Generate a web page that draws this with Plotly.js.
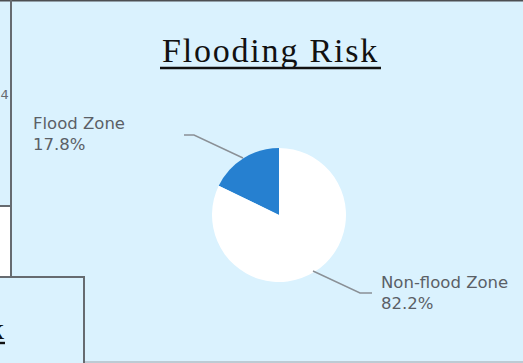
<!DOCTYPE html>
<html>
<head>
<meta charset="utf-8">
<script src="https://cdn.plot.ly/plotly-3.0.1.min.js"></script>
<style>html,body{margin:0;padding:0;background:#daf2fe;}#chart{width:523px;height:363px;}</style>
</head>
<body>
<div id="chart"></div>
<script>
const categories = ["Flood Zone", "Non-flood Zone"];
const shares = [17.8, 82.2];
const sliceColors = ["#2680d0", "#ffffff"];
const chartTitle = "Flooding Risk";

const W = 523, H = 363;
const px = x => x / W;
const py = y => 1 - y / H;
const total = shares.reduce((a, b) => a + b, 0);
const labelText = i => categories[i] + "<br>" + (shares[i] / total * 100).toFixed(1) + "%";

const trace = {
  type: "pie",
  labels: categories,
  values: shares,
  sort: false,
  direction: "clockwise",
  rotation: -360 * shares[0] / total,
  textinfo: "none",
  hoverinfo: "none",
  marker: { colors: sliceColors, line: { width: 0 } },
  domain: { x: [px(212), px(346)], y: [py(282), py(148)] },
  showlegend: false
};

const edge = "#666b70";
const labelFont = { family: "DejaVu Sans, sans-serif", size: 16.5, color: "#5a6066" };
const layout = {
  width: W, height: H,
  margin: { l: 0, r: 0, t: 0, b: 0, pad: 0 },
  paper_bgcolor: "#daf2fe",
  plot_bgcolor: "#daf2fe",
  showlegend: false,
  annotations: [
    { text: '<span style="letter-spacing:1.8px">' + chartTitle + '</span>', xref: "paper", yref: "paper",
      x: px(270), y: py(50), xanchor: "center", yanchor: "middle", showarrow: false,
      font: { family: "Liberation Serif, Times New Roman, serif", size: 34, color: "#111111" } },
    { text: labelText(0), xref: "paper", yref: "paper", x: px(31), y: py(134), xanchor: "left", yanchor: "middle",
      align: "left", showarrow: false, font: labelFont },
    { text: labelText(1), xref: "paper", yref: "paper", x: px(379), y: py(293), xanchor: "left", yanchor: "middle",
      align: "left", showarrow: false, font: labelFont },
    { text: "2.4", xref: "paper", yref: "paper", x: px(11), y: py(95), xanchor: "right", yanchor: "middle",
      showarrow: false, font: { family: "DejaVu Sans, sans-serif", size: 13, color: "#666a70" } },
    { text: "k", xref: "paper", yref: "paper", x: px(6), y: py(328), xanchor: "right", yanchor: "middle",
      showarrow: false, font: { family: "Liberation Serif, serif", size: 30, color: "#111111" } }
  ],
  shapes: [
    { type: "line", xref: "paper", yref: "paper", x0: px(160), x1: px(381), y0: py(68), y1: py(68),
      line: { color: "#111111", width: 2.6 } },
    { type: "path", xref: "paper", yref: "paper",
      path: `M ${px(184)},${py(135)} L ${px(194)},${py(135)} L ${px(243)},${py(158)}`,
      line: { color: "#8a9096", width: 1.4 } },
    { type: "path", xref: "paper", yref: "paper",
      path: `M ${px(313)},${py(271)} L ${px(360)},${py(293)} L ${px(372)},${py(293)}`,
      line: { color: "#8a9096", width: 1.4 } },
    { type: "rect", xref: "paper", yref: "paper", x0: 0, x1: 1, y0: py(1.5), y1: 1,
      line: { width: 0 }, fillcolor: "#4d4f52" },
    { type: "rect", xref: "paper", yref: "paper", x0: 0, x1: px(11), y0: py(277), y1: py(206),
      line: { width: 0 }, fillcolor: "#ffffff" },
    { type: "line", xref: "paper", yref: "paper", x0: 0, x1: px(11), y0: py(206), y1: py(206),
      line: { color: edge, width: 2 } },
    { type: "line", xref: "paper", yref: "paper", x0: px(11), x1: px(11), y0: py(0), y1: py(277),
      line: { color: edge, width: 2 } },
    { type: "line", xref: "paper", yref: "paper", x0: 0, x1: px(85), y0: py(277), y1: py(277),
      line: { color: edge, width: 2 } },
    { type: "line", xref: "paper", yref: "paper", x0: px(84), x1: px(84), y0: py(277), y1: 0,
      line: { color: edge, width: 2 } },
    { type: "line", xref: "paper", yref: "paper", x0: 0, x1: px(5), y0: py(343), y1: py(343),
      line: { color: "#111111", width: 2.4 } },
    { type: "line", xref: "paper", yref: "paper", x0: px(85), x1: 1, y0: py(362), y1: py(362),
      line: { color: "#b3bec6", width: 1.5 } }
  ]
};

Plotly.newPlot("chart", [trace], layout, { displayModeBar: false, staticPlot: true });
</script>
</body>
</html>
